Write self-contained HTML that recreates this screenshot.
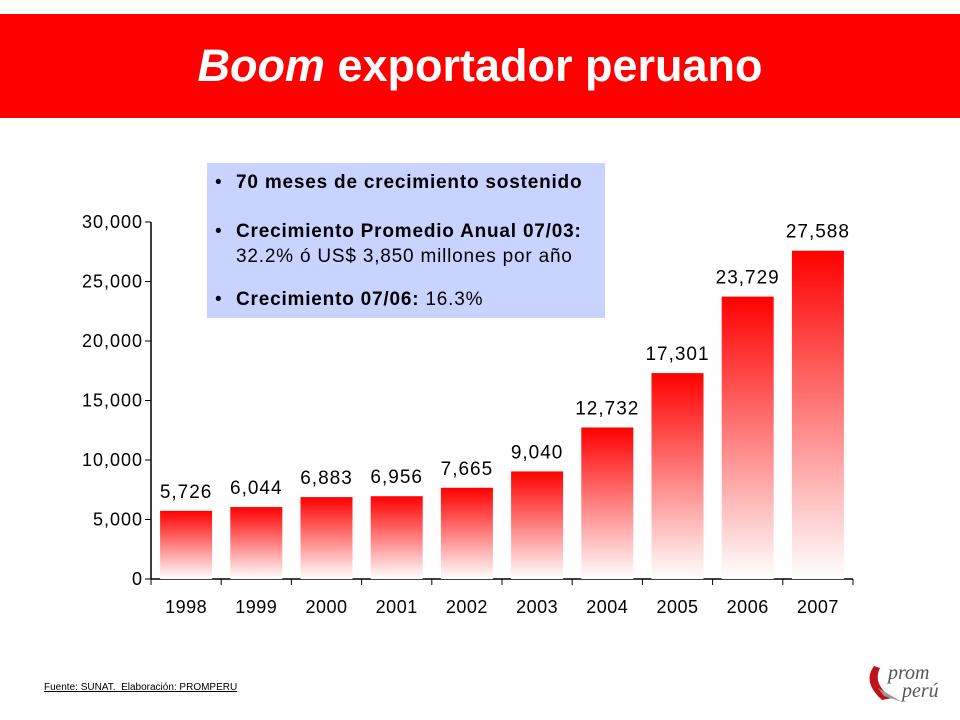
<!DOCTYPE html>
<html><head><meta charset="utf-8"><style>
body{margin:0;width:960px;height:720px;background:#fff;overflow:hidden;font-family:"Liberation Sans",sans-serif;position:relative}
#banner{position:absolute;left:0;top:14px;width:960px;height:104px;background:#ff0000;color:#fff;font-weight:bold;font-size:45px;text-align:center;line-height:104px}
#box{position:absolute;left:207px;top:163px;width:398px;height:155px;background:#c8d4ff;font-size:19px;letter-spacing:0.8px;color:#000;white-space:nowrap}
#box div{position:absolute;left:8px}
#box span.b{display:inline-block;width:21px}
#foot{position:absolute;left:44px;top:682px;font-size:10px;text-decoration:underline}
</style></head><body>
<div id="banner"><i>Boom</i> exportador peruano</div>
<svg width="960" height="720" style="position:absolute;left:0;top:0" id="chart">
<defs><linearGradient id="g" x1="0" y1="0" x2="0" y2="1"><stop offset="0" stop-color="#ff0000"/><stop offset="1" stop-color="#ffffff"/></linearGradient></defs>
</svg>
<div id="box">
<div style="top:9px"><span class="b">•</span><b>70 meses de crecimiento sostenido</b></div>
<div style="top:58px"><span class="b">•</span><b>Crecimiento Promedio Anual 07/03:</b></div>
<div style="top:83px;left:29px">32.2% ó US$ 3,850 millones por año</div>
<div style="top:126px"><span class="b">•</span><b>Crecimiento 07/06:</b> 16.3%</div>
</div>
<div id="foot">Fuente: SUNAT.&nbsp; Elaboración: PROMPERU</div>
<div style="position:absolute;left:862px;top:662px;width:90px;height:48px">
<svg width="90" height="48"><path d="M12 4 Q0 20 20 38 L30 36 Q10 22 18 6Z" fill="#c0101a"/><path d="M16 26 L40 40 L22 34Z" fill="#999"/></svg>
<span style="position:absolute;left:26px;top:0;font-family:'Liberation Serif',serif;font-style:italic;font-size:20px;color:#555">prom</span>
<span style="position:absolute;left:40px;top:18px;font-family:'Liberation Serif',serif;font-style:italic;font-size:20px;color:#555">perú</span>
</div>
<script>
const years=["1998","1999","2000","2001","2002","2003","2004","2005","2006","2007"];
const values=[5726,6044,6883,6956,7665,9040,12732,17301,23729,27588];
const yTicks=[0,5000,10000,15000,20000,25000,30000];
const yTickLabels=["0","5,000","10,000","15,000","20,000","25,000","30,000"];
const svg=document.getElementById('chart');const NS='http://www.w3.org/2000/svg';
const x0=151,x1=853,yb=579,yt=222,ymax=30000;
const band=(x1-x0)/years.length;
const y=v=>yb-(v/ymax)*(yb-yt);
function mk(t,a){const e=document.createElementNS(NS,t);for(const k in a)e.setAttribute(k,a[k]);svg.appendChild(e);return e;}
let ax=mk('line',{x1:x0,y1:yt,x2:x0,y2:yb,stroke:'#000','stroke-width':1.5});

let bx=mk('line',{x1:x0,y1:yb,x2:x1,y2:yb,stroke:'#000','stroke-width':1.5});

yTicks.forEach((v,i)=>{mk('line',{x1:x0-6,y1:y(v),x2:x0,y2:y(v),stroke:'#000'});
const t=mk('text',{x:x0-8,y:y(v)+6,'text-anchor':'end','font-size':18,'letter-spacing':1,'font-family':'Liberation Sans'});t.textContent=yTickLabels[i];
});
for(let i=0;i<=years.length;i++)mk('line',{x1:x0+i*band,y1:yb,x2:x0+i*band,y2:yb+6,stroke:'#000'});
years.forEach((yr,i)=>{const cx=x0+band*(i+0.5);const v=values[i];
const r=mk('rect',{x:cx-26,y:y(v),width:52,height:yb-y(v),fill:'url(#g)'});

const l=mk('text',{x:cx,y:y(v)-13,'text-anchor':'middle','font-size':19,'letter-spacing':1,'font-family':'Liberation Sans'});l.textContent=v.toLocaleString('en-US');

const t=mk('text',{x:cx,y:613,'text-anchor':'middle','font-size':18,'letter-spacing':0.5,'font-family':'Liberation Sans'});t.textContent=yr;
});
</script>
</body></html>
